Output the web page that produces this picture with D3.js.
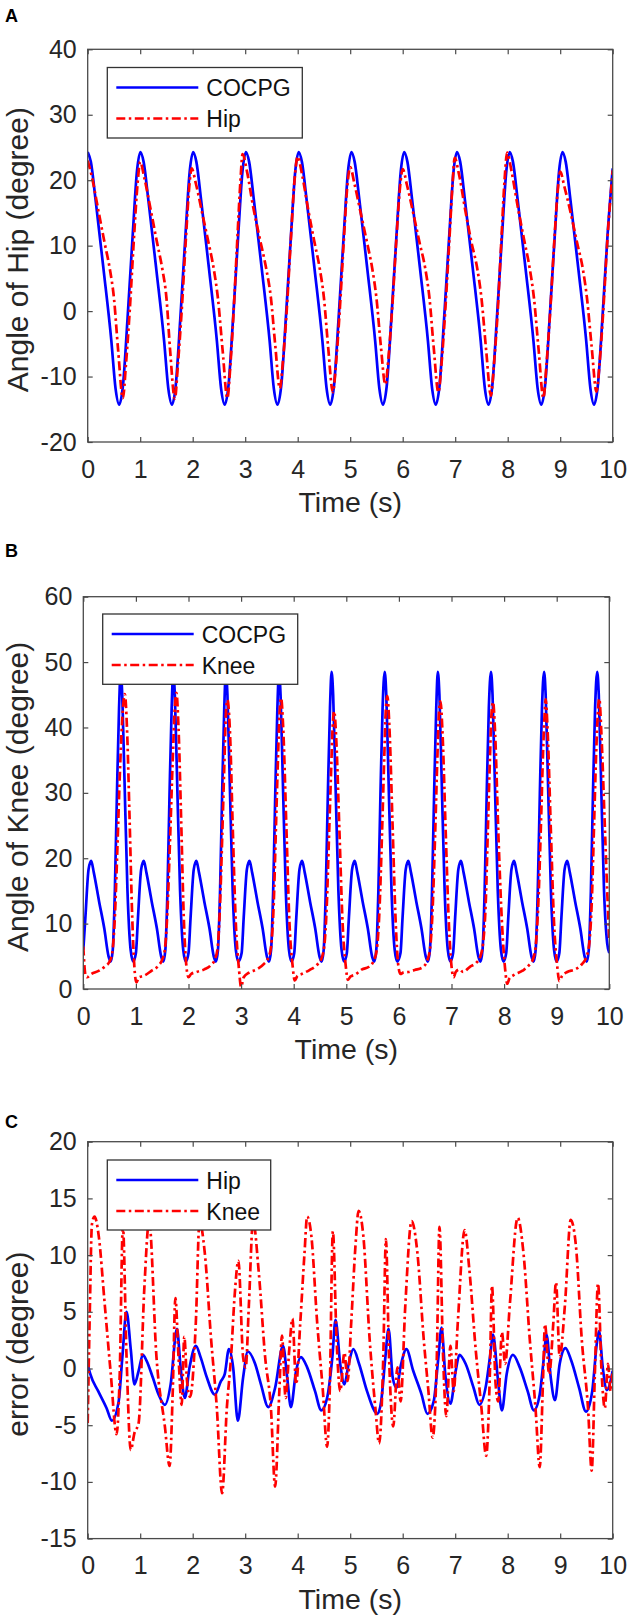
<!DOCTYPE html>
<html>
<head>
<meta charset="utf-8">
<script src="https://cdn.jsdelivr.net/npm/d3@7"></script>
<style>
  body { margin: 0; background: #fff; }
  svg { display: block; font-family: "Liberation Sans", Arial, sans-serif; }
</style>
</head>
<body>
<svg id="chart" width="630" height="1619"></svg>
<script>
// ---------- data ----------
var timeTicks = [0, 1, 2, 3, 4, 5, 6, 7, 8, 9, 10];
var hipTicks = [-20, -10, 0, 10, 20, 30, 40];
var kneeTicks = [0, 10, 20, 30, 40, 50, 60];
var errTicks = [-15, -10, -5, 0, 5, 10, 15, 20];

// A: hip angle, COCPG output [t, deg]
var hipCocpg = [
  [0,24.3],[0.06,22.8],[0.15,17],[0.3,6.5],[0.45,-4.5],[0.53,-11.8],[0.6,-14.3],[0.67,-11.5],[0.76,-1],[0.86,12],[0.94,21.5],
  [1.005,24.3],[1.065,22.8],[1.155,17],[1.305,6.5],[1.455,-4.5],[1.535,-11.8],[1.605,-14.3],[1.675,-11.5],[1.765,-1],[1.865,12],[1.945,21.5],
  [2.01,24.3],[2.07,22.8],[2.16,17],[2.31,6.5],[2.46,-4.5],[2.54,-11.8],[2.61,-14.3],[2.68,-11.5],[2.77,-1],[2.87,12],[2.95,21.5],
  [3.015,24.3],[3.075,22.8],[3.165,17],[3.315,6.5],[3.465,-4.5],[3.545,-11.8],[3.615,-14.3],[3.685,-11.5],[3.775,-1],[3.875,12],[3.955,21.5],
  [4.02,24.3],[4.08,22.8],[4.17,17],[4.32,6.5],[4.47,-4.5],[4.55,-11.8],[4.62,-14.3],[4.69,-11.5],[4.78,-1],[4.88,12],[4.96,21.5],
  [5.025,24.3],[5.085,22.8],[5.175,17],[5.325,6.5],[5.475,-4.5],[5.555,-11.8],[5.625,-14.3],[5.695,-11.5],[5.785,-1],[5.885,12],[5.965,21.5],
  [6.03,24.3],[6.09,22.8],[6.18,17],[6.33,6.5],[6.48,-4.5],[6.56,-11.8],[6.63,-14.3],[6.70,-11.5],[6.79,-1],[6.89,12],[6.97,21.5],
  [7.035,24.3],[7.095,22.8],[7.185,17],[7.335,6.5],[7.485,-4.5],[7.565,-11.8],[7.635,-14.3],[7.705,-11.5],[7.795,-1],[7.895,12],[7.975,21.5],
  [8.04,24.3],[8.10,22.8],[8.19,17],[8.34,6.5],[8.49,-4.5],[8.57,-11.8],[8.64,-14.3],[8.71,-11.5],[8.80,-1],[8.90,12],[8.98,21.5],
  [9.045,24.3],[9.105,22.8],[9.195,17],[9.345,6.5],[9.495,-4.5],[9.575,-11.8],[9.645,-14.3],[9.715,-11.5],[9.805,-1],[9.905,12],[10,21.8]
];

// A: measured hip angle
var hipActual = [
  [0,23.0],[0.08,20.5],[0.2,15.5],[0.32,10.5],[0.42,6.5],[0.5,2],[0.58,-6],[0.67,-13.3],[0.73,-8],[0.8,0],[0.88,11],[0.95,19.5],
  [1.0,22.8],[1.08,20.3],[1.2,15.5],[1.32,10.5],[1.42,6.5],[1.5,2],[1.57,-6],[1.66,-13.4],[1.72,-8],[1.79,0],[1.87,11],[1.94,19.5],
  [1.98,21.8],[2.06,19.5],[2.18,15],[2.3,10.5],[2.4,6.5],[2.48,2],[2.57,-6],[2.66,-13.3],[2.72,-8],[2.78,0],[2.85,11],[2.91,20],
  [2.95,24.0],[3.03,21.5],[3.15,16],[3.28,11],[3.4,6.5],[3.49,2],[3.57,-5],[3.66,-11.8],[3.72,-7.5],[3.79,0],[3.87,11],[3.94,20],
  [4.0,23.6],[4.08,21],[4.2,15.5],[4.32,10.5],[4.42,6.5],[4.5,2],[4.58,-5.5],[4.67,-12.4],[4.73,-8],[4.8,0],[4.88,11],[4.95,19.5],
  [5.0,22.0],[5.08,19.5],[5.2,15],[5.32,10.5],[5.42,6.5],[5.5,2],[5.58,-5],[5.67,-11.2],[5.73,-7],[5.8,0.5],[5.88,11],[5.95,19],
  [6.0,21.7],[6.08,19.3],[6.2,15],[6.32,10.5],[6.43,6.5],[6.51,2],[6.59,-5.5],[6.68,-12.4],[6.74,-8],[6.81,0],[6.89,11],[6.95,19.5],
  [6.99,23.4],[7.07,21],[7.19,15.5],[7.31,10.5],[7.42,6.5],[7.5,2],[7.59,-6],[7.68,-12.9],[7.74,-8],[7.81,0],[7.88,11],[7.94,20],
  [7.99,24.2],[8.07,21.5],[8.19,16],[8.31,11],[8.42,6.5],[8.5,2],[8.59,-6],[8.68,-13.3],[8.74,-8],[8.81,0],[8.89,11],[8.96,19],
  [9.0,21.3],[9.08,19],[9.2,15],[9.32,10.5],[9.43,6.5],[9.51,2],[9.6,-5.5],[9.69,-12.3],[9.75,-8],[9.82,0],[9.9,11],[10,21.5]
];

// B: knee angle, COCPG output
var kneeCocpg = [
  [0,6],[0.04,11],[0.1,18.3],[0.15,19.6],[0.2,17.8],[0.3,13.4],[0.4,9.2],[0.48,5],[0.52,4.2],[0.56,6],[0.6,15],[0.64,30],[0.68,43],[0.71,48.5],[0.74,45],[0.78,33],[0.84,15],[0.9,6],[0.95,4.2],
  [1.0,5.5],[1.04,11],[1.1,18.3],[1.15,19.6],[1.2,17.8],[1.3,13.4],[1.4,9.2],[1.48,5],[1.52,4.2],[1.56,6],[1.6,15],[1.64,30],[1.68,43],[1.71,48.5],[1.74,45],[1.78,33],[1.84,15],[1.9,6],[1.95,4.2],
  [2.0,5.5],[2.04,11],[2.1,18.3],[2.15,19.6],[2.2,17.8],[2.3,13.4],[2.4,9.2],[2.48,5],[2.52,4.2],[2.56,6],[2.6,15],[2.64,30],[2.68,43],[2.71,48.5],[2.74,45],[2.78,33],[2.84,15],[2.9,6],[2.95,4.2],
  [3.01,5.5],[3.05,11],[3.11,18.3],[3.16,19.6],[3.21,17.8],[3.31,13.4],[3.41,9.2],[3.49,5],[3.53,4.2],[3.57,6],[3.61,15],[3.65,30],[3.69,43],[3.72,48.5],[3.75,45],[3.79,33],[3.85,15],[3.91,6],[3.96,4.2],
  [4.01,5.5],[4.05,11],[4.11,18.3],[4.16,19.6],[4.21,17.8],[4.31,13.4],[4.41,9.2],[4.49,5],[4.53,4.2],[4.57,6],[4.61,15],[4.65,30],[4.69,43],[4.72,48.5],[4.75,45],[4.79,33],[4.85,15],[4.91,6],[4.96,4.2],
  [5.01,5.5],[5.05,11],[5.11,18.3],[5.16,19.6],[5.21,17.8],[5.31,13.4],[5.41,9.2],[5.49,5],[5.53,4.2],[5.57,6],[5.61,15],[5.65,30],[5.69,43],[5.73,48.5],[5.76,45],[5.8,33],[5.86,15],[5.92,6],[5.97,4.2],
  [6.03,5.5],[6.07,11],[6.13,18.3],[6.18,19.6],[6.23,17.8],[6.33,13.4],[6.43,9.2],[6.51,5],[6.55,4.2],[6.59,6],[6.63,15],[6.67,30],[6.71,43],[6.74,48.5],[6.77,45],[6.81,33],[6.87,15],[6.93,6],[6.98,4.2],
  [7.03,5.5],[7.07,11],[7.13,18.3],[7.18,19.6],[7.23,17.8],[7.33,13.4],[7.43,9.2],[7.51,5],[7.55,4.2],[7.59,6],[7.63,15],[7.67,30],[7.71,43],[7.75,48.5],[7.78,45],[7.82,33],[7.88,15],[7.94,6],[7.99,4.2],
  [8.04,5.5],[8.08,11],[8.14,18.3],[8.19,19.6],[8.24,17.8],[8.34,13.4],[8.44,9.2],[8.52,5],[8.56,4.2],[8.6,6],[8.64,15],[8.68,30],[8.72,43],[8.76,48.5],[8.79,45],[8.83,33],[8.89,15],[8.95,6],[9.0,4.2],
  [9.05,5.5],[9.09,11],[9.15,18.3],[9.2,19.6],[9.25,17.8],[9.35,13.4],[9.45,9.2],[9.53,5],[9.57,4.2],[9.61,6],[9.65,15],[9.69,30],[9.73,43],[9.77,48.5],[9.8,45],[9.84,33],[9.9,15],[9.96,7],[10,5.5]
];

// B: measured knee angle
var kneeActual = [
  [0,6.5],[0.04,2.2],[0.07,1.8],[0.15,2.3],[0.3,2.8],[0.42,3.5],[0.5,4.2],[0.55,5.5],[0.6,11],[0.65,22],[0.7,34],[0.75,42.5],[0.79,45.1],[0.83,40],[0.88,26],[0.93,11],[0.97,3.5],[1.01,1.0],
  [1.06,1.8],[1.15,2.0],[1.3,2.8],[1.42,3.5],[1.5,4.5],[1.55,6],[1.6,12],[1.65,23],[1.7,35],[1.74,43],[1.77,45.3],[1.81,40],[1.86,26],[1.91,11],[1.96,3.5],[2.0,1.8],
  [2.05,2.3],[2.15,2.6],[2.3,3.0],[2.42,3.6],[2.5,4.5],[2.55,6],[2.6,13],[2.64,23],[2.68,34],[2.71,42],[2.74,44.2],[2.79,39],[2.84,25],[2.9,10],[2.96,3],[3.0,0.3],
  [3.05,1.8],[3.15,2.5],[3.3,3.0],[3.43,3.8],[3.52,4.8],[3.57,6.5],[3.62,13],[3.66,24],[3.7,35],[3.73,42],[3.76,44.5],[3.8,40],[3.86,25],[3.92,10],[3.98,3.5],[4.02,1.3],
  [4.07,2.0],[4.15,2.3],[4.3,2.9],[4.43,3.6],[4.52,4.5],[4.58,6.5],[4.63,13],[4.67,23],[4.71,33],[4.74,40],[4.77,42.5],[4.81,38],[4.87,24],[4.93,10],[4.99,3.5],[5.03,1.4],
  [5.08,1.9],[5.17,2.2],[5.3,3.0],[5.43,3.4],[5.52,4.3],[5.58,6],[5.63,12],[5.68,24],[5.72,35],[5.75,42.5],[5.78,44.8],[5.82,40],[5.88,25],[5.94,10],[5.99,3.5],[6.03,2.3],
  [6.08,2.5],[6.18,2.6],[6.3,2.9],[6.45,3.3],[6.53,4.2],[6.59,6],[6.64,12],[6.69,24],[6.73,35],[6.76,42],[6.79,44.0],[6.83,39],[6.89,24],[6.95,10],[7.0,3.5],[7.04,1.8],
  [7.08,2.6],[7.15,3.0],[7.22,2.6],[7.35,3.4],[7.47,4.0],[7.54,4.8],[7.6,7],[7.65,13],[7.69,24],[7.73,35],[7.76,42],[7.79,43.9],[7.83,39],[7.89,24],[7.96,10],[8.02,3],[8.06,0.8],
  [8.1,1.6],[8.2,2.2],[8.35,2.8],[8.47,3.6],[8.55,4.6],[8.6,6.5],[8.65,13],[8.7,25],[8.74,36],[8.77,42],[8.79,44.3],[8.83,39],[8.89,24],[8.95,10],[9.01,3.5],[9.05,1.2],
  [9.1,2.0],[9.2,2.6],[9.35,3.0],[9.48,3.8],[9.56,4.8],[9.62,7],[9.67,14],[9.71,25],[9.75,36],[9.78,42],[9.81,44.4],[9.85,39],[9.91,26],[9.96,15],[10,7.5]
];

// C: tracking error
var hipError = [
  [0,0.4],[0.05,-0.5],[0.2,-2.0],[0.36,-3.5],[0.46,-4.6],[0.59,-2.9],[0.66,1.0],[0.74,5.0],[0.82,1.7],[0.89,-1.4],[0.97,-0.2],
  [1.05,1.2],[1.12,0.7],[1.24,-0.8],[1.35,-2.3],[1.47,-3.2],[1.58,-1.4],[1.7,3.5],[1.77,0.1],[1.85,-2.6],[1.94,0.1],
  [2.06,2.0],[2.15,1.0],[2.27,-0.8],[2.42,-2.3],[2.54,-1.1],[2.61,-0.5],[2.69,1.7],[2.77,0.1],[2.86,-4.6],[2.96,-0.8],
  [3.05,1.5],[3.19,0.4],[3.3,-1.4],[3.44,-3.4],[3.57,-1.7],[3.72,2.0],[3.8,-0.8],[3.87,-3.4],[3.97,-0.2],
  [4.06,1.0],[4.18,0.1],[4.33,-2.0],[4.45,-3.7],[4.56,-2.6],[4.66,1.0],[4.72,4.3],[4.81,0.4],[4.89,-1.4],[4.97,0.4],
  [5.06,1.7],[5.17,0.4],[5.32,-2.0],[5.52,-4.0],[5.59,-2.9],[5.67,1.0],[5.73,3.5],[5.81,-0.8],[5.88,-1.7],[5.97,0.4],
  [6.07,1.7],[6.2,-0.2],[6.36,-2.3],[6.47,-4.0],[6.59,-2.9],[6.68,1.0],[6.74,3.6],[6.81,-0.5],[6.91,-3.1],
  [7.01,-0.2],[7.08,1.2],[7.2,0.4],[7.35,-1.7],[7.46,-3.2],[7.59,-1.4],[7.67,1.3],[7.72,3.0],[7.81,-0.8],[7.89,-3.7],[7.98,-0.5],
  [8.1,1.2],[8.23,0.1],[8.38,-2.0],[8.5,-3.7],[8.61,-2.3],[8.69,1.0],[8.74,3.0],[8.82,-0.8],[8.9,-2.8],[8.99,0.4],
  [9.1,1.8],[9.21,0.7],[9.36,-1.7],[9.49,-3.8],[9.61,-2.0],[9.7,2.3],[9.74,3.3],[9.81,0.1],[9.89,-1.9],[10,-0.2]
];

var kneeError = [
  [0,-4.8],[0.04,5],[0.08,12.7],[0.13,13.4],[0.21,11.7],[0.32,5.9],[0.44,-0.5],[0.55,-5.8],[0.61,-0.5],[0.67,12.6],[0.74,1.0],[0.82,-7.2],[0.89,-5.7],[0.97,-4.8],
  [1.08,7.2],[1.17,13.0],[1.31,1.0],[1.47,-5.1],[1.56,-8.6],[1.62,-2.0],[1.67,6.2],[1.73,1.0],[1.79,-3.2],[1.84,2.8],[1.89,-1],[1.95,-2.5],
  [2.06,4.1],[2.13,13.0],[2.23,10.2],[2.35,2.6],[2.46,-3.5],[2.56,-11.0],[2.65,-3.5],[2.73,1.0],[2.8,6.5],[2.87,9.5],[2.96,1.0],
  [3.01,0.1],[3.07,5.6],[3.15,13.0],[3.26,8.4],[3.38,1.0],[3.49,-3.5],[3.57,-10.4],[3.65,-2.0],[3.7,2.9],[3.77,-2.6],[3.84,1.7],[3.9,4.4],[3.97,-1.4],
  [4.05,4.1],[4.13,10.2],[4.18,13.4],[4.26,11.7],[4.37,4.1],[4.48,-2.0],[4.56,-6.9],[4.61,-2.0],[4.67,12.1],[4.74,2.6],[4.81,-2.0],[4.89,1.4],[4.95,-1.1],
  [5.02,4.1],[5.1,10.8],[5.16,13.9],[5.25,11.7],[5.37,2.6],[5.48,-3.5],[5.55,-6.6],[5.63,1.0],[5.68,11.4],[5.74,1.0],[5.82,-5.1],[5.9,0.1],[5.96,-2.9],
  [6.05,5.6],[6.17,13.0],[6.28,10.2],[6.4,2.6],[6.49,-2.0],[6.57,-6.1],[6.65,1.0],[6.7,12.5],[6.77,1.0],[6.83,-4.2],[6.91,2.0],[6.97,-2.0],
  [7.05,4.1],[7.18,12.2],[7.27,8.7],[7.39,1.7],[7.5,-3.5],[7.59,-7.7],[7.66,-0.5],[7.7,7.3],[7.77,-1.4],[7.82,-2.9],[7.89,3.2],[7.95,0.4],
  [8.04,5.6],[8.19,13.3],[8.3,10.2],[8.42,2.6],[8.53,-3.5],[8.61,-8.7],[8.67,-1.4],[8.71,3.9],[8.79,-0.5],[8.87,4.1],[8.92,7.6],[8.99,1.0],
  [9.09,5.6],[9.2,13.1],[9.3,10.8],[9.41,2.6],[9.53,-3.5],[9.6,-9.0],[9.66,-0.5],[9.72,7.5],[9.79,-0.5],[9.85,-3.5],[9.91,0.4],[9.96,-2.0],[10,-0.2]
];

// ---------- layout ----------
var BLUE = "#0000ff", RED = "#ff0000";
var DASHDOT = "9,3.5,2.5,3.5";
var TICK_FS = 25, XLABEL_FS = 28.5, YLABEL_FS = 30, LEGEND_FS = 23;
var svg = d3.select("#chart");
// MATLAB prints a plain hyphen for negatives
var fmt = function(d) { return String(d); };

var panels = [
  { letter: "A", letterY: 22, box: { l: 87.7, r: 612.7, t: 49.3, b: 442 },
    yDomain: [-20, 40], yTicks: hipTicks, yLabel: "Angle of Hip (degree)",
    series: [ { name: "COCPG", data: hipCocpg, color: BLUE }, { name: "Hip", data: hipActual, color: RED, dash: DASHDOT } ],
    legend: { x: 107.3, y: 67.5, w: 195, h: 70.5 } },
  { letter: "B", letterY: 557, box: { l: 83.3, r: 609.3, t: 596.7, b: 989 },
    yDomain: [0, 60], yTicks: kneeTicks, yLabel: "Angle of Knee (degree)",
    series: [ { name: "COCPG", data: kneeCocpg, color: BLUE }, { name: "Knee", data: kneeActual, color: RED, dash: DASHDOT } ],
    legend: { x: 102.7, y: 614, w: 195, h: 70.3 } },
  { letter: "C", letterY: 1128, box: { l: 87.7, r: 612.7, t: 1141.7, b: 1538.6 },
    yDomain: [-15, 20], yTicks: errTicks, yLabel: "error (degree)",
    series: [ { name: "Hip", data: hipError, color: BLUE }, { name: "Knee", data: kneeError, color: RED, dash: DASHDOT } ],
    legend: { x: 107.3, y: 1160, w: 163.4, h: 70 } }
];

panels.forEach(function(p, idx) {
  var b = p.box;
  var x = d3.scaleLinear().domain([0, 10]).range([b.l, b.r]);
  var y = d3.scaleLinear().domain(p.yDomain).range([b.b, b.t]);

  // panel letter
  svg.append("text")
    .attr("x", 5).attr("y", p.letterY)
    .attr("font-size", 18).attr("font-weight", "bold").attr("fill", "#000")
    .text(p.letter);

  // clip for the lines
  svg.append("clipPath").attr("id", "clip" + idx)
    .append("rect")
    .attr("x", b.l).attr("y", b.t)
    .attr("width", b.r - b.l).attr("height", b.b - b.t);

  var line = d3.line()
    .x(function(d) { return x(d[0]); })
    .y(function(d) { return y(d[1]); })
    .curve(d3.curveMonotoneX);

  var g = svg.append("g").attr("clip-path", "url(#clip" + idx + ")");
  p.series.forEach(function(s) {
    g.append("path")
      .attr("d", line(s.data))
      .attr("fill", "none")
      .attr("stroke", s.color)
      .attr("stroke-width", 2.7)
      .attr("stroke-linejoin", "round")
      .attr("stroke-dasharray", s.dash || null);
  });

  // axes, ticks pointing inward
  var axCol = "#4a4a4a";
  function styleAxis(sel) {
    sel.select(".domain").remove();
    sel.selectAll(".tick line").attr("stroke", axCol).attr("stroke-width", 1.2);
    sel.selectAll(".tick text").attr("fill", "#262626")
      .style("font-family", '"Liberation Sans", Arial, sans-serif').style("font-size", TICK_FS + "px");
  }
  svg.append("g").attr("transform", "translate(0," + b.b + ")")
    .call(d3.axisBottom(x).tickValues(timeTicks).tickSizeInner(-5).tickSizeOuter(0).tickPadding(18).tickFormat(fmt))
    .call(styleAxis);
  svg.append("g").attr("transform", "translate(0," + b.t + ")")
    .call(d3.axisTop(x).tickValues(timeTicks).tickSizeInner(-5).tickSizeOuter(0).tickFormat(""))
    .call(styleAxis);
  svg.append("g").attr("transform", "translate(" + b.l + ",0)")
    .call(d3.axisLeft(y).tickValues(p.yTicks).tickSizeInner(-5).tickSizeOuter(0).tickPadding(11).tickFormat(fmt))
    .call(styleAxis);
  svg.append("g").attr("transform", "translate(" + b.r + ",0)")
    .call(d3.axisRight(y).tickValues(p.yTicks).tickSizeInner(-5).tickSizeOuter(0).tickFormat(""))
    .call(styleAxis);

  svg.append("rect")
    .attr("x", b.l).attr("y", b.t)
    .attr("width", b.r - b.l).attr("height", b.b - b.t)
    .attr("fill", "none").attr("stroke", axCol).attr("stroke-width", 1.3);

  // axis labels
  svg.append("text")
    .attr("x", (b.l + b.r) / 2).attr("y", b.b + 70)
    .attr("text-anchor", "middle").attr("font-size", XLABEL_FS).attr("fill", "#262626")
    .text("Time (s)");
  svg.append("text")
    .attr("transform", "translate(28," + ((b.t + b.b) / 2 + 4) + ") rotate(-90)")
    .attr("text-anchor", "middle").attr("font-size", YLABEL_FS).attr("fill", "#262626")
    .text(p.yLabel);

  // legend
  var L = p.legend;
  var lg = svg.append("g").attr("transform", "translate(" + L.x + "," + L.y + ")");
  lg.append("rect").attr("width", L.w).attr("height", L.h)
    .attr("fill", "#fff").attr("stroke", "#333").attr("stroke-width", 1.3);
  p.series.forEach(function(s, i) {
    var ry = 20 + i * 31;
    lg.append("line")
      .attr("x1", 9).attr("x2", 91).attr("y1", ry).attr("y2", ry)
      .attr("stroke", s.color).attr("stroke-width", 2.7)
      .attr("stroke-dasharray", s.dash || null);
    lg.append("text")
      .attr("x", 99).attr("y", ry + 8.5)
      .attr("font-size", LEGEND_FS).attr("fill", "#111")
      .text(s.name);
  });
});
</script>
</body>
</html>
